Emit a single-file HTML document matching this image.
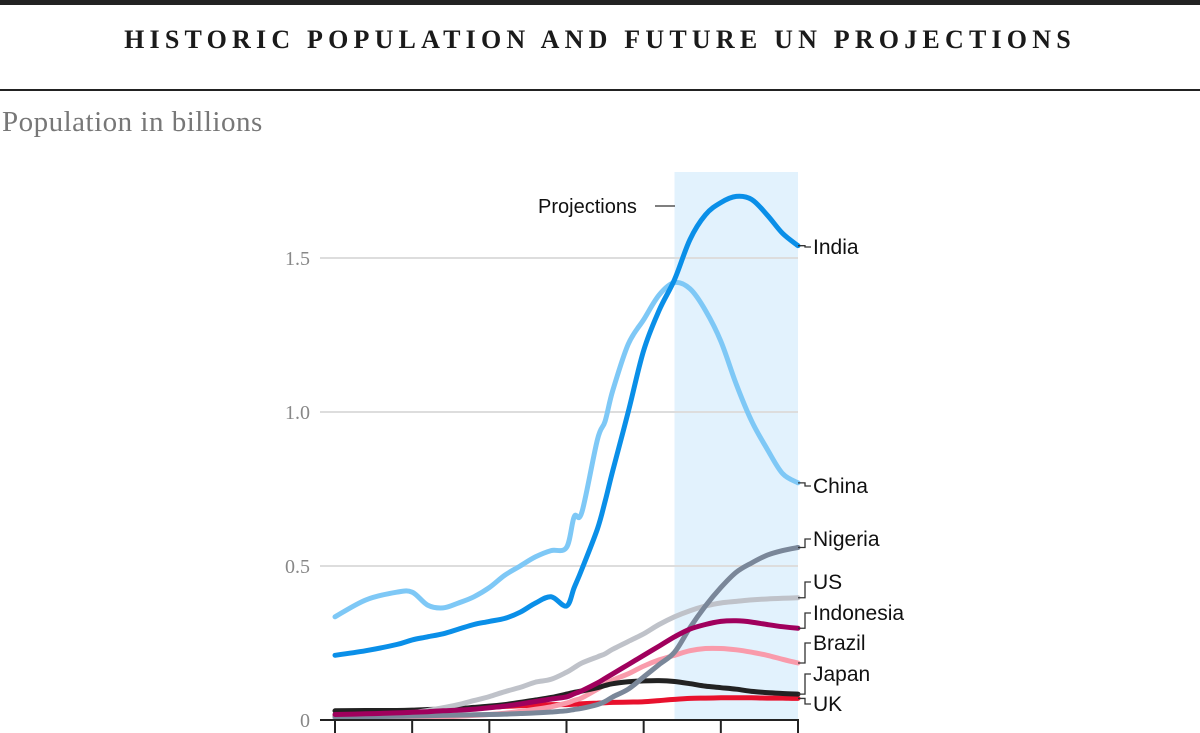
<!DOCTYPE html>
<html><head><meta charset="utf-8">
<style>
body{margin:0;width:1200px;height:733px;overflow:hidden;background:#fff;font-family:"Liberation Serif",serif;}
#topbar{position:absolute;left:0;top:0;width:1200px;height:5px;background:#222;}
#title{position:absolute;left:0;top:25px;width:1200px;text-align:center;font-weight:bold;font-size:26px;letter-spacing:5.2px;color:#1a1a1a;}
#rule{position:absolute;left:0;top:89px;width:1200px;height:2px;background:#222;}
#sub{position:absolute;left:2px;top:106px;font-size:29px;letter-spacing:0.5px;color:#777;}
svg{position:absolute;left:0;top:0;}
</style></head><body>
<div id="topbar"></div>
<div id="title">HISTORIC POPULATION AND FUTURE UN PROJECTIONS</div>
<div id="rule"></div>
<div id="sub">Population in billions</div>
<svg id="chart" width="1200" height="733"></svg>
<script>
const years=[1800,1820,1840,1850,1860,1870,1880,1890,1900,1910,1920,1930,1940,1950,1955,1960,1970,1975,1980,1990,2000,2010,2020,2030,2040,2050,2060,2070,2080,2090,2100];
const china=[0.335,0.39,0.415,0.415,0.373,0.364,0.38,0.40,0.43,0.47,0.50,0.53,0.55,0.56,0.66,0.675,0.91,0.97,1.07,1.22,1.30,1.38,1.42,1.40,1.33,1.23,1.09,0.97,0.88,0.80,0.77];
const india=[0.21,0.225,0.245,0.26,0.27,0.28,0.295,0.31,0.32,0.33,0.35,0.38,0.40,0.37,0.43,0.49,0.62,0.71,0.81,1.0,1.2,1.33,1.43,1.56,1.64,1.68,1.70,1.69,1.64,1.58,1.54];
const nigeria=[0.01,0.011,0.012,0.013,0.014,0.015,0.016,0.017,0.018,0.019,0.021,0.023,0.026,0.03,0.034,0.038,0.05,0.06,0.075,0.1,0.14,0.18,0.22,0.3,0.37,0.43,0.48,0.51,0.535,0.55,0.56];
const us=[0.005,0.01,0.017,0.023,0.031,0.04,0.05,0.063,0.076,0.092,0.106,0.123,0.132,0.155,0.17,0.185,0.205,0.215,0.23,0.255,0.28,0.31,0.335,0.355,0.37,0.38,0.385,0.39,0.393,0.395,0.397];
const indonesia=[0.018,0.02,0.023,0.025,0.027,0.03,0.032,0.035,0.04,0.045,0.052,0.06,0.068,0.075,0.085,0.095,0.12,0.135,0.15,0.18,0.21,0.24,0.27,0.295,0.31,0.32,0.322,0.318,0.31,0.303,0.298];
const brazil=[0.005,0.006,0.007,0.008,0.009,0.01,0.012,0.015,0.018,0.022,0.028,0.035,0.043,0.055,0.064,0.072,0.1,0.115,0.13,0.15,0.175,0.195,0.21,0.225,0.232,0.232,0.228,0.22,0.21,0.197,0.185];
const japan=[0.03,0.031,0.031,0.032,0.034,0.035,0.037,0.041,0.045,0.05,0.057,0.065,0.073,0.084,0.09,0.094,0.105,0.112,0.118,0.124,0.127,0.128,0.125,0.118,0.11,0.105,0.1,0.093,0.089,0.086,0.084];
const uk=[0.012,0.016,0.022,0.027,0.029,0.031,0.035,0.038,0.041,0.044,0.046,0.048,0.05,0.05,0.051,0.053,0.055,0.056,0.057,0.058,0.059,0.063,0.067,0.07,0.071,0.072,0.072,0.072,0.071,0.071,0.07];
const yTicks=[0,0.5,1.0,1.5];
const yTickLabels=["0","0.5","1.0","1.5"];
const xTicks=[1800,1850,1900,1950,2000,2050,2100];
const projStart=2020;

const NS="http://www.w3.org/2000/svg";
const svg=document.getElementById('chart');
const X=y=>335+(y-1800)*(463/300);
const Y=v=>720-v*308;
function mk(t,a){const e=document.createElementNS(NS,t);for(const k in a)e.setAttribute(k,a[k]);svg.appendChild(e);return e;}
function smooth(pts){let d='M'+pts[0][0].toFixed(1)+','+pts[0][1].toFixed(1);
 for(let i=0;i<pts.length-1;i++){const p0=pts[i-1]||pts[i],p1=pts[i],p2=pts[i+1],p3=pts[i+2]||p2;
  const c1=[p1[0]+(p2[0]-p0[0])/6,p1[1]+(p2[1]-p0[1])/6],c2=[p2[0]-(p3[0]-p1[0])/6,p2[1]-(p3[1]-p1[1])/6];
  d+='C'+c1.map(v=>v.toFixed(1))+' '+c2.map(v=>v.toFixed(1))+' '+p2.map(v=>v.toFixed(1));}
 return d;}

let r=mk('rect',{x:X(projStart),y:172,width:X(2100)-X(projStart),height:548,fill:'#e2f2fd'});



yTicks.forEach((t,i)=>{
  if(t>0){let g=mk('line',{x1:320,x2:798,y1:Y(t),y2:Y(t),stroke:'#ddd','stroke-width':2});
  
  }
  let l=mk('text',{x:310,y:Y(t)+7,'text-anchor':'end','font-size':20,fill:'#888','font-family':'Liberation Serif, serif'});
  l.textContent=yTickLabels[i];
  
  
});

const series=[
 ['uk',uk,'#e8112d'],['brazil',brazil,'#f99bab'],['japan',japan,'#222'],['us',us,'#bfc2c9'],
 ['nigeria',nigeria,'#7a8799'],['indonesia',indonesia,'#a0005d'],['china',china,'#7ec8f6'],['india',india,'#0a8fe8']];
series.forEach(([n,d,c])=>{
  const p=smooth(d.map((v,i)=>[X(years[i]),Y(v)]));
  let e=mk('path',{d:p,fill:'none',stroke:c,'stroke-width':5,'stroke-linejoin':'round','stroke-linecap':'round'});
  
  
});

let ax=mk('line',{x1:320,x2:799,y1:720,y2:720,stroke:'#222','stroke-width':2});


xTicks.forEach(t=>{let k=mk('line',{x1:X(t),x2:X(t),y1:720,y2:733,stroke:'#222','stroke-width':2});
 
 });

const labels=[['India',india,247],['China',china,486],['Nigeria',nigeria,539],['US',us,582],['Indonesia',indonesia,613],['Brazil',brazil,643],['Japan',japan,674],['UK',uk,704]];
labels.forEach(([n,d,ly])=>{
  const vy=Y(d[d.length-1]);
  let c=mk('path',{d:`M798,${vy}H805V${ly}H811`,fill:'none',stroke:'#333','stroke-width':1.3});
  
  
  let t=mk('text',{x:813,y:ly+7,'font-size':21,fill:'#111','font-family':'Liberation Sans Narrow, Liberation Sans, sans-serif'});
  t.textContent=n;
  
  
});
let pt=mk('text',{x:538,y:213,'font-size':20,fill:'#111','font-family':'Liberation Sans Narrow, Liberation Sans, sans-serif'});
pt.textContent='Projections';


let pl=mk('line',{x1:655,x2:675,y1:206,y2:206,stroke:'#333','stroke-width':1.3});


</script>
</body></html>
